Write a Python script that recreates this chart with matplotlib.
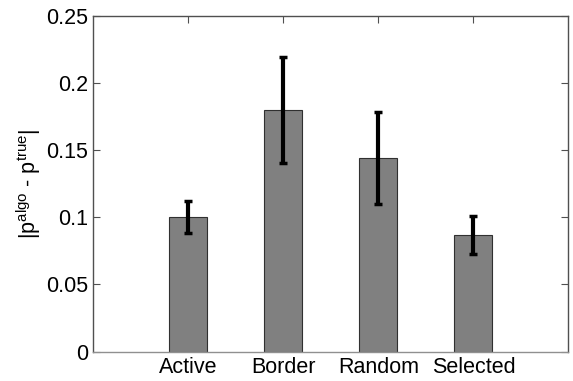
import matplotlib.pyplot as plt
import matplotlib

matplotlib.rc('font', family=['Liberation Sans', 'DejaVu Sans'])
matplotlib.rcParams['mathtext.default'] = 'regular'

labels = ['Active', 'Border', 'Random', 'Selected']
means = [0.100, 0.180, 0.144, 0.087]
errs = [0.0119, 0.0395, 0.0342, 0.0140]

fig = plt.figure(figsize=(5.73, 3.81), dpi=100)
ax = fig.add_axes([0.163, 0.077, 0.829, 0.882])

x = [1, 2, 3, 4]
ax.bar(x, means, width=0.4, color='#808080', edgecolor='#303030', linewidth=0.8, zorder=2)
ax.errorbar(x, means, yerr=errs, fmt='none', ecolor='black', elinewidth=3,
            capsize=3, capthick=2.5, zorder=3)

ax.set_xlim(0, 5)
ax.set_ylim(0, 0.25)
ax.set_xticks(x)
ax.set_xticklabels(labels)
ax.set_yticks([0, 0.05, 0.1, 0.15, 0.2, 0.25])
ax.set_yticklabels(['0', '0.05', '0.1', '0.15', '0.2', '0.25'])
ax.tick_params(direction='in', length=5, width=0.8, colors='#505050',
               labelcolor='black', labelsize=15.5, top=True, right=True, pad=4)
for s in ax.spines.values():
    s.set_color('#505050')
    s.set_linewidth(1.0)
ax.spines['bottom'].set_color('#909090')

ax.set_ylabel(r'$|p^{algo}$ - $p^{true}|$', fontsize=15.5, labelpad=2)

fig.savefig('out.png', dpi=100)
